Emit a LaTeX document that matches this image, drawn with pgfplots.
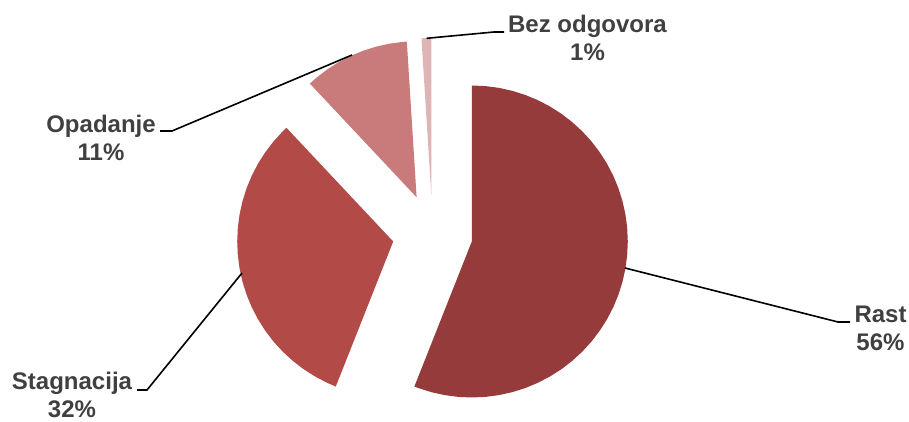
\documentclass[border=0pt]{standalone}
\usepackage{pgfplots}
\pgfplotsset{compat=1.18}
\usepackage{fontspec}
\setmainfont{Liberation Sans}
\definecolor{cRast}{HTML}{953B3B}
\definecolor{cStag}{HTML}{B24B48}
\definecolor{cOpad}{HTML}{C97B7B}
\definecolor{cBez}{HTML}{DDB5B5}
\definecolor{txt}{HTML}{404040}
\tikzset{
  lbl/.style={font=\bfseries\fontsize{18}{21}\selectfont, text=txt, align=center, anchor=north, inner sep=0pt},
  leader/.style={black, line width=1.2pt},
}
\begin{document}
\begin{tikzpicture}
\begin{axis}[
  x=0.75pt, y=0.75pt,
  xmin=-432.5, xmax=476.5, ymin=-187, ymax=234,
  axis line style={draw=none}, ticks=none,
  clip=false,
]
% invisible corners (bounding box)
\addplot[draw=none, no markers] coordinates {(-432.5,-187) (476.5,234)};
% Rast 56% : 90 -> -111.6 deg
\addplot[data cs=polar, fill=cRast, draw=none, no markers, xshift=29.47pt, yshift=-5.62pt] coordinates {
(90,0) (90,156) (85,156) (80,156) (75,156) (70,156) (65,156) (60,156) (55,156) (50,156) (45,156)
(40,156) (35,156) (30,156) (25,156) (20,156) (15,156) (10,156) (5,156) (0,156) (-5,156) (-10,156)
(-15,156) (-20,156) (-25,156) (-30,156) (-35,156) (-40,156) (-45,156) (-50,156) (-55,156) (-60,156)
(-65,156) (-70,156) (-75,156) (-80,156) (-85,156) (-90,156) (-95,156) (-100,156) (-105,156) (-110,156)
(-111.6,156) (-111.6,0)} -- cycle;
% Stagnacija 32% : -111.6 -> -226.8
\addplot[data cs=polar, fill=cStag, draw=none, no markers, xshift=-29.47pt, yshift=-5.62pt] coordinates {
(-111.6,0) (-111.6,156) (-115,156) (-120,156) (-125,156) (-130,156) (-135,156) (-140,156) (-145,156)
(-150,156) (-155,156) (-160,156) (-165,156) (-170,156) (-175,156) (-180,156) (-185,156) (-190,156)
(-195,156) (-200,156) (-205,156) (-210,156) (-215,156) (-220,156) (-225,156) (-226.8,156) (-226.8,0)} -- cycle;
% Opadanje 11% : -226.8 -> -266.4
\addplot[data cs=polar, fill=cOpad, draw=none, no markers, xshift=-11.91pt, yshift=27.53pt] coordinates {
(-226.8,0) (-226.8,156) (-230,156) (-235,156) (-240,156) (-245,156) (-250,156) (-255,156) (-260,156)
(-265,156) (-266.4,156) (-266.4,0)} -- cycle;
% Bez odgovora 1% : -266.4 -> -270
\addplot[data cs=polar, fill=cBez, draw=none, no markers, xshift=-0.94pt, yshift=29.99pt] coordinates {
(-266.4,0) (-266.4,156) (-268,156) (-270,156) (-270,0)} -- cycle;
% leader lines
\addplot[leader, no markers] coordinates {(192.5,-34) (405.5,-88) (417.5,-88)};
\addplot[leader, no markers] coordinates {(-80.5,179) (-260.5,103) (-272.5,103)};
\addplot[leader, no markers] coordinates {(-190.5,-39) (-285.5,-156) (-295.5,-156)};
\addplot[leader, no markers] coordinates {(-5.8,195.7) (61.5,202) (71.5,202)};
% labels
\node[lbl] at (axis cs:448,-72) {Rast\\56\%};
\node[lbl] at (axis cs:-331.5,119) {Opadanje\\11\%};
\node[lbl] at (axis cs:-360.5,-138) {Stagnacija\\32\%};
\node[lbl] at (axis cs:155,219) {Bez odgovora\\1\%};
\end{axis}
\end{tikzpicture}
\end{document}
